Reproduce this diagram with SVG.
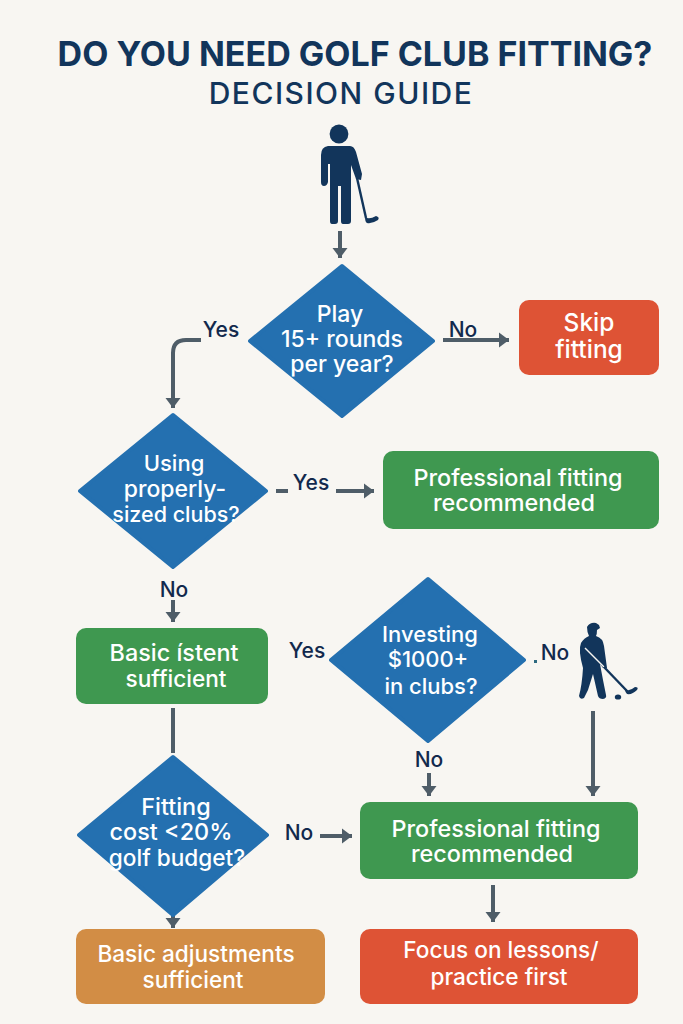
<svg xmlns="http://www.w3.org/2000/svg" width="683" height="1024" viewBox="0 0 683 1024">
<defs>
<marker id="ah" viewBox="0 0 10 15" refX="10" refY="7.5" markerWidth="2.6" markerHeight="3.9" orient="auto" markerUnits="strokeWidth"><path d="M0 0L10 7.5L0 15Z" fill="#4f5d68"/></marker>
</defs>
<style>
text{font-family:"Inter","Liberation Sans",sans-serif;text-anchor:middle}
.t{fill:#fff;font-size:23px;font-weight:500}
.s{font-size:22px}
.m{font-size:22.6px}
.b{font-size:23.4px}
.x{font-size:24.5px}
.l{fill:#12294d;font-size:21px;font-weight:500}
.d{fill:#2470b0;stroke:#2470b0;stroke-width:4;stroke-linejoin:round}
.c{fill:none;stroke:#4f5d68;stroke-width:4}
.g{fill:#3f9850}.r{fill:#de5335}.o{fill:#d28d45}
.i{fill:#12355b}
</style>
<rect width="683" height="1024" fill="#f8f6f2"/>
<g id="title">
<text x="355" y="66" font-size="34" font-weight="700" fill="#12355b">DO YOU NEED GOLF CLUB FITTING?</text>
<text x="341" y="104" font-size="30" font-weight="500" fill="#12355b" letter-spacing="1.5">DECISION GUIDE</text>
</g>
<g id="connectors">
<path class="c" d="M340 231V258" marker-end="url(#ah)"/>
<path class="c" d="M443 340H509" marker-end="url(#ah)"/>
<path class="c" d="M201 340H186Q173 340 173 353V408" marker-end="url(#ah)"/>
<path class="c" d="M276 491H288"/>
<path class="c" d="M336 491H374" marker-end="url(#ah)"/>
<path class="c" d="M173 600V622" marker-end="url(#ah)"/>
<path class="c" d="M173 708V753"/>
<path class="c" d="M429 773V796" marker-end="url(#ah)"/>
<path class="c" d="M593 711V796" marker-end="url(#ah)"/>
<path class="c" d="M320 836H352" marker-end="url(#ah)"/>
<path class="c" d="M173 914V928" marker-end="url(#ah)"/>
<path class="c" d="M493 885V922" marker-end="url(#ah)"/>
</g>
<g id="golfer1">
<circle class="i" cx="339" cy="134" r="9.4"/>
<path class="i" d="M328 146H350Q354 146 356 152L362 174L361 180L356 179L351 165V221Q351 224 348 224H343Q341 224 341 221V186H338V221Q338 224 335 224H332Q330 224 330 221V164H328V182Q327 186 324 186Q321 186 321 182V155Q321 147 328 146Z"/>
<path fill="none" stroke="#12355b" stroke-width="2.4" d="M357 178L366 218"/>
<path class="i" d="M365 217Q369 220 376 216Q380 217 378 220Q372 224 367 223Q365 222 365 217Z"/>
</g>
<g id="golfer2">
<path class="i" d="M587 627Q590 622 596 623L599 625L600 628L597 630Q597 634 596 636Q603 638 604 646L607 668L603 668L600 664L603 680L606 695Q607 698 603 699Q599 699 598 696L593 674L588 690L584 698Q580 700 579 696Q582 685 583 668Q578 650 581 643Q584 638 589 636Q587 632 587 627Z"/>
<path fill="none" stroke="#f8f6f2" stroke-width="1.4" d="M585 648L604 667"/>
<path fill="none" stroke="#12355b" stroke-width="2.4" d="M604 667L627 691"/>
<path class="i" d="M625 689Q629 692 635 687Q639 687 637 690Q632 695 627 694Q625 692 625 689Z"/>
<ellipse class="i" cx="618" cy="697" rx="3.2" ry="2.6"/>
</g>
<g id="q1"><path class="d" d="M342 266L433 341L342 416L250 341Z"/>
<text class="t" x="340" y="322">Play</text><text class="t" x="342" y="347">15+ rounds</text><text class="t" x="342" y="372">per year?</text></g>
<g id="skip"><rect class="r" x="519" y="300" width="140" height="75" rx="10"/>
<text class="t x" x="589" y="331">Skip</text><text class="t x" x="589" y="358">fitting</text></g>
<g id="q2"><path class="d" d="M173 415L266 491L173 567L80 491Z"/>
<text class="t s" x="174" y="471">Using</text><text class="t" x="175" y="497">properly-</text><text class="t" x="176" y="522" style="font-size:21.5px">sized clubs?</text></g>
<g id="pro1"><rect class="g" x="383" y="451" width="276" height="78" rx="10"/>
<text class="t b" x="518" y="486">Professional fitting</text><text class="t b" x="514" y="511">recommended</text></g>
<g id="basic1"><rect class="g" x="76" y="628" width="192" height="76" rx="10"/>
<text class="t b" x="174" y="661">Basic ístent</text><text class="t m" x="176" y="687">sufficient</text></g>
<g id="q3"><path class="d" d="M428 579L524 660L428 741L331 660Z"/>
<text class="t s" x="430" y="642">Investing</text><text class="t s" x="428" y="667">$1000+</text><text class="t s" x="431" y="694">in clubs?</text></g>
<g id="q4"><path class="d" d="M173 757L267 835L173 915L79 835Z"/>
<text class="t b" x="176" y="815">Fitting</text><text class="t b" x="171" y="840">cost &lt;20%</text><text class="t m" x="177" y="866">golf budget?</text></g>
<g id="pro2"><rect class="g" x="360" y="802" width="278" height="77" rx="10"/>
<text class="t b" x="496" y="837">Professional fitting</text><text class="t b" x="492" y="862">recommended</text></g>
<g id="basic2"><rect class="o" x="76" y="929" width="249" height="75" rx="10"/>
<text class="t m" x="196" y="962">Basic adjustments</text><text class="t m" x="193" y="988">sufficient</text></g>
<g id="focus"><rect class="r" x="360" y="929" width="278" height="75" rx="10"/>
<text class="t m" x="501" y="958">Focus on lessons/</text><text class="t m" x="499" y="985">practice first</text></g>
<g id="labels">
<text class="l" x="221" y="337">Yes</text>
<text class="l" x="463" y="337">No</text>
<text class="l" x="311" y="490">Yes</text>
<text class="l" x="174" y="597">No</text>
<text class="l" x="307" y="658">Yes</text>
<text class="l" x="555" y="660">No</text>
<rect x="534" y="660" width="3" height="3" fill="#2d6a80"/>
<text class="l" x="429" y="767">No</text>
<text class="l" x="299" y="840">No</text>
</g>
</svg>
